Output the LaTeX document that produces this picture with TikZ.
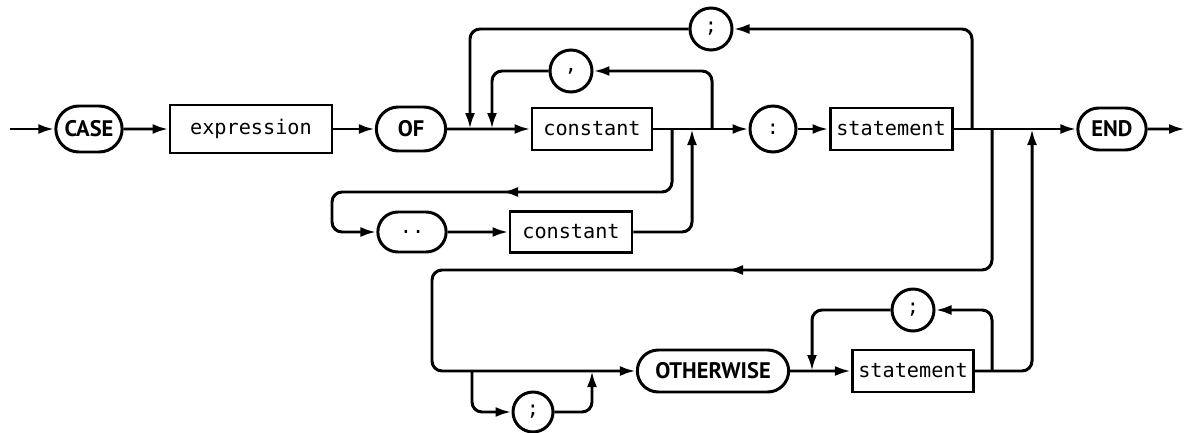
\documentclass[tikz,border=0pt]{standalone}
\usepackage{fontspec}
\setmonofont{DejaVu Sans Mono}
\setsansfont{PT Sans}
\usepackage{tikz}
\usetikzlibrary{arrows.meta, calc, positioning, shapes.misc}
\tikzset{
>={Latex[length=0.32cm,width=0.2cm]}, % filled arrow heads
kw/.style={draw, rounded rectangle, minimum height=0.84cm, font=\sffamily\bfseries\fontsize{12.8}{14}\selectfont}, % reserved words
ident/.style={draw, rectangle, minimum height=0.84cm, font=\ttfamily\fontsize{11.5}{13}\selectfont}, % syntax units
sym/.style={draw, circle, minimum size=0.84cm, inner sep=0pt, font=\ttfamily\fontsize{11.5}{13}\selectfont}, % symbols
back/.style={->, rounded corners=0.2cm}, % loop lines
}

\begin{document}
\begin{tikzpicture}[line width=1.7pt]
  \useasboundingbox (0,0) rectangle (23.72,-8.66);

  % top row
  \node[kw, minimum width=1.56cm, minimum height=0.92cm] (case) at (1.78,-2.58) {CASE};
  \node[ident, minimum width=3.24cm, minimum height=0.96cm] (expr) at (5.02,-2.58) {expression};
  \node[kw, minimum width=1.62cm, minimum height=0.88cm] (of) at (8.22,-2.58) {OF};
  \node[ident, minimum width=2.40cm] (const) at (11.84,-2.58) {constant};
  \node[sym, minimum size=0.92cm] (colon) at (15.46,-2.58) {:};
  \node[ident, minimum width=2.44cm] (stmt) at (17.82,-2.58) {statement};
  \node[kw, minimum width=1.60cm] (end) at (22.24,-2.58) {END};

  % loops above
  \node[sym] (comma) at (11.42,-1.42) {,};
  \node[sym] (semi) at (14.22,-0.58) {;};

  % range
  \node[kw, minimum width=1.60cm, minimum height=0.80cm, font=\ttfamily\fontsize{11.5}{13}\selectfont] (dots) at (8.24,-4.64) {..};
  \node[ident, minimum width=2.44cm, minimum height=0.82cm] (constb) at (11.42,-4.64) {constant};

  % otherwise part
  \node[kw, minimum width=3.26cm] (other) at (14.26,-7.42) {OTHERWISE};
  \node[sym, minimum size=0.80cm] (semib) at (10.66,-8.24) {;};
  \node[ident, minimum width=2.40cm] (stmtb) at (18.26,-7.42) {statement};
  \node[sym] (semic) at (18.26,-6.20) {;};

  % junctions
  \coordinate (in) at (0.20,-2.58);
  \coordinate (out) at (23.70,-2.58);
  \coordinate (j1) at (9.40,-2.58);
  \coordinate (j2) at (9.84,-2.58);
  \coordinate (j3) at (13.44,-2.58);
  \coordinate (j4) at (13.84,-2.58);
  \coordinate (j5) at (14.24,-2.58);
  \coordinate (j6) at (19.44,-2.58);
  \coordinate (j7) at (19.84,-2.58);
  \coordinate (j8) at (20.64,-2.58);
  \coordinate (r1) at (10.04,-3.84);
  \coordinate (r1a) at (10.50,-3.84);
  \coordinate (c1) at (6.64,-4.64);
  \coordinate (r2) at (14.54,-5.40);
  \coordinate (r2a) at (15.00,-5.40);
  \coordinate (c2) at (8.64,-7.42);
  \coordinate (k1) at (9.44,-7.42);
  \coordinate (k2) at (11.84,-7.42);
  \coordinate (k3) at (16.24,-7.42);
  \coordinate (k4) at (19.84,-7.42);

  % main line
  \draw[->] (in) -- (case);
  \draw[->] (case) -- (expr);
  \draw[->] (expr) -- (of);
  \draw[->] (of) -- (const);
  \draw[->] (const) -- (colon);
  \draw[->] (colon) -- (stmt);
  \draw[->] (stmt) -- (end);
  \draw[->] (end) -- (out);

  % repeat loops
  \draw[back] (j6) |- (semi);
  \draw[back] (semi) -| (j1);
  \draw[back] (j5) |- (comma);
  \draw[back] (comma) -| (j2);

  % range
  \draw[back] (j3) |- (r1) -| (c1) -- (dots);
  \draw[->] (r1a) -- (r1);
  \draw[->] (dots) -- (constb);
  \draw[back] (constb) -| (j4);

  % otherwise
  \draw[back] (j7) |- (r2) -| (c2) -- (other);
  \draw[->] (r2a) -- (r2);
  \draw[back] (k1) |- (semib);
  \draw[back] (semib) -| (k2);
  \draw[->] (other) -- (stmtb);
  \draw[back] (k4) |- (semic);
  \draw[back] (semic) -| (k3);
  \draw[back] (stmtb) -| (j8);
\end{tikzpicture}
\end{document}
